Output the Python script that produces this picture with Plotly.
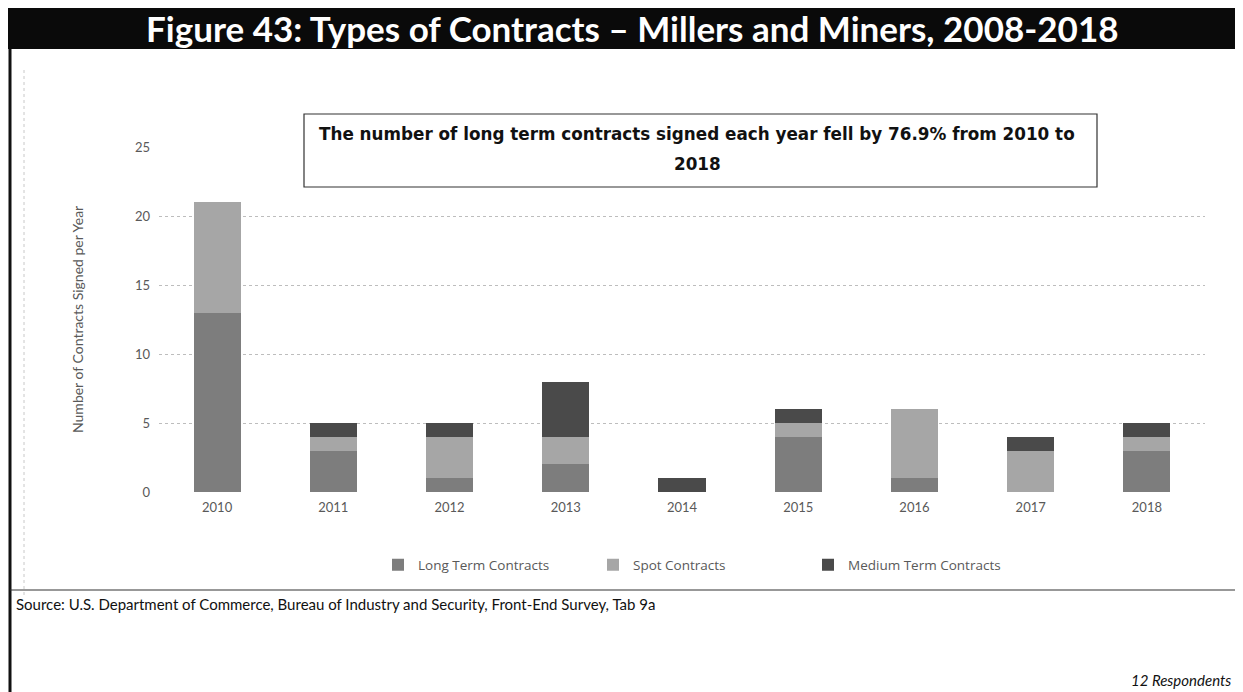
import plotly.graph_objects as go

years = ["2010", "2011", "2012", "2013", "2014", "2015", "2016", "2017", "2018"]
long_term = [13, 3, 1, 2, 0, 4, 1, 0, 3]
spot = [8, 1, 3, 2, 0, 1, 5, 3, 1]
medium_term = [0, 1, 1, 4, 1, 1, 0, 1, 1]
series_names = ["Long Term Contracts", "Spot Contracts", "Medium Term Contracts"]
y_ticks = [0, 5, 10, 15, 20, 25]

# screen size and page offset (default body margin of the html page)
SW, SH = 1243, 692
OFF = 8
W, H = SW - OFF, SH - OFF
# plot area in screen pixels
L, R, T, B = 159, 1205, 147, 492


def px(x):
    return (x - L) / (R - L)


def py(y):
    return (B - y) / (B - T)


FONT = "Lato"
GREY = "#595959"

fig = go.Figure()
for name, vals, col in [
    (series_names[0], long_term, "#7d7d7d"),
    (series_names[1], spot, "#a6a6a6"),
    (series_names[2], medium_term, "#4a4a4a"),
]:
    fig.add_trace(go.Bar(x=years, y=vals, name=name, marker=dict(color=col, line=dict(width=0))))

shapes = [
    dict(type="rect", xref="paper", yref="paper", x0=px(-5), x1=px(SW + 5), y0=py(-5), y1=py(49),
         fillcolor="#0a0a0a", line=dict(width=0), layer="below"),
    dict(type="line", xref="paper", yref="paper", x0=px(10), x1=px(10), y0=py(49), y1=py(SH + 5),
         line=dict(color="#111111", width=3)),
    dict(type="line", xref="paper", yref="paper", x0=px(10), x1=px(SW + 5), y0=py(590), y1=py(590),
         line=dict(color="#333333", width=1.2)),
    dict(type="line", xref="paper", yref="paper", x0=px(24), x1=px(24), y0=py(70), y1=py(598),
         line=dict(color="#c8c8c8", width=1, dash="dot")),
    dict(type="rect", xref="paper", yref="paper", x0=px(304), x1=px(1097), y0=py(114), y1=py(187),
         fillcolor="white", line=dict(color="#333333", width=1.2)),
]

box_font = dict(family="DejaVu Sans", size=16.8, color="#111111")
annotations = [
    dict(text="<b>Figure 43: Types of Contracts \u2013 Millers and Miners, 2008-2018</b>",
         xref="paper", yref="paper", x=px(632), y=py(28), xanchor="center", yanchor="middle",
         showarrow=False, font=dict(family=FONT, size=35, color="white")),
    dict(text="<b>The number of long term contracts signed each year fell by 76.9% from 2010 to</b>",
         xref="paper", yref="paper", x=px(697), y=py(134), xanchor="center", yanchor="middle",
         showarrow=False, font=box_font),
    dict(text="<b>2018</b>",
         xref="paper", yref="paper", x=px(697), y=py(164), xanchor="center", yanchor="middle",
         showarrow=False, font=box_font),
    dict(text="Number of Contracts Signed per Year", xref="paper", yref="paper",
         x=px(77), y=py(320), xanchor="center", yanchor="middle", textangle=-90,
         showarrow=False, font=dict(family=FONT, size=14, color=GREY)),
    dict(text="Source: U.S. Department of Commerce, Bureau of Industry and Security, Front-End Survey, Tab 9a",
         xref="paper", yref="paper", x=px(14), y=py(604), xanchor="left", yanchor="middle",
         showarrow=False, font=dict(family=FONT, size=15, color="#111111")),
    dict(text="<i>12 Respondents</i>", xref="paper", yref="paper", x=px(1233), y=py(680),
         xanchor="right", yanchor="middle", showarrow=False,
         font=dict(family=FONT, size=15, color="#111111")),
]

fig.update_layout(
    width=W, height=H, autosize=False,
    margin=dict(l=L - OFF, r=SW - R, t=T - OFF, b=SH - B, pad=0),
    paper_bgcolor="white", plot_bgcolor="white",
    barmode="stack", bargap=0.595,
    shapes=shapes, annotations=annotations,
    font=dict(family=FONT, size=13, color=GREY),
    legend=dict(orientation="h", x=px(378), y=py(565), xanchor="left", yanchor="middle",
                font=dict(family="Open Sans", size=13.5, color=GREY), traceorder="normal",
                entrywidth=170, entrywidthmode="pixels", itemwidth=30,
                bgcolor="rgba(0,0,0,0)"),
    xaxis=dict(showgrid=False, showline=False, ticks="", tickfont=dict(size=13, color=GREY),
               ticklabelstandoff=6),
    yaxis=dict(range=[0, 25], tickvals=y_ticks, showgrid=True, gridcolor="#bdbdbd",
               griddash="dot", gridwidth=1, zeroline=False, showline=False, ticks="",
               tickfont=dict(size=13, color=GREY), ticklabelstandoff=8),
)

fig.write_html("out.html")
